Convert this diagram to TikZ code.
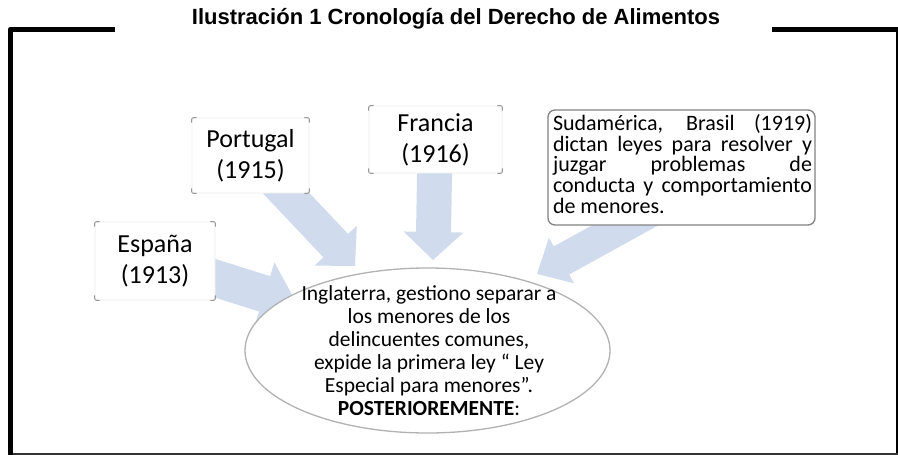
\documentclass[tikz,border=0pt]{standalone}
\usepackage{fontspec}
\setmainfont{Carlito}
\newfontfamily\titlefont{Liberation Sans}
\usetikzlibrary{calc,shapes.geometric}
\definecolor{arrowblue}{RGB}{208,220,238}
\definecolor{boxedge}{RGB}{236,236,236}
\definecolor{cornergray}{RGB}{150,150,150}
\definecolor{bigedge}{RGB}{130,130,130}
\tikzset{
  smallbox/.style={draw=boxedge, line width=0.8pt, fill=white, rounded corners=3pt,
    inner sep=0pt, align=center, font=\fontsize{26}{31}\selectfont},
  bigbox/.style={draw=bigedge, line width=1.3pt, fill=white, rounded corners=7pt,
    inner sep=0pt, minimum width=267pt, minimum height=115pt},
  cornertick/.style={draw=cornergray, line width=0.9pt, rounded corners=2pt},
  arrowfill/.style={fill=arrowblue},
  frameline/.style={line width=5pt, black, line join=round},
}
\newcommand\blockarrow[4]{%
  \coordinate (#1H) at ($(#1T)!#4!(#1S)$);
  \fill[arrowfill] ($(#1S)!#2/2!90:(#1T)$) -- ($(#1H)!#2/2!90:(#1T)$)
    -- ($(#1H)!#3/2!90:(#1T)$) -- (#1T) -- ($(#1H)!#3/2!-90:(#1T)$)
    -- ($(#1H)!#2/2!-90:(#1T)$) -- ($(#1S)!#2/2!-90:(#1T)$) -- cycle;
}
\newcommand\boxcorners[1]{%
  \draw[cornertick] ($(#1.north west)+(0,5)$) |- ($(#1.north west)+(5,0)$);
  \draw[cornertick] ($(#1.north east)+(-5,0)$) -| ($(#1.north east)+(0,5)$);
  \draw[cornertick] ($(#1.south west)+(0,-5)$) |- ($(#1.south west)+(5,0)$);
  \draw[cornertick] ($(#1.south east)+(-5,0)$) -| ($(#1.south east)+(0,-5)$);
}
\begin{document}
\begin{tikzpicture}[x=1pt,y=-1pt]
\useasboundingbox (0,0) rectangle (898,455);
\fill[white] (0,0) rectangle (898,455);

% frame
\draw[frameline] (114.5,29) -- (10.5,29) -- (10.5,455);
\draw[frameline] (772,29) -- (898,29);
\draw[line width=1.5pt] (897,31) -- (897,454);
\draw[line width=2pt, black!80] (13,453.5) -- (898,453.5);

% title
\node[font=\titlefont\bfseries\fontsize{22}{24}\selectfont, inner sep=0pt] (title) at (456,19)
  {Ilustración 1 Cronología del Derecho de Alimentos};

% arrows
\coordinate (frS) at (435,150);   \coordinate (frT) at (433,260);
\coordinate (ptS) at (250,155);   \coordinate (ptT) at (355,266);
\coordinate (esS) at (157,260);   \coordinate (esT) at (297,304);
\coordinate (saS) at (662,205);   \coordinate (saT) at (537,274);
\blockarrow{fr}{35pt}{60pt}{28pt}
\blockarrow{pt}{34pt}{58pt}{28pt}
\blockarrow{es}{37pt}{66pt}{34pt}
\blockarrow{sa}{32pt}{52pt}{28pt}

% boxes
\node[smallbox, minimum width=120pt, minimum height=78pt] (es) at (155,261) {España\\(1913)};
\node[smallbox, minimum width=117pt, minimum height=75pt] (pt) at (250.5,155.5) {Portugal\\(1915)};
\node[smallbox, minimum width=133pt, minimum height=67pt] (fr) at (435.5,139.5) {Francia\\(1916)};
\boxcorners{es}
\boxcorners{pt}
\boxcorners{fr}

\node[bigbox] (sa) at (681.5,167.5) {};
\node[inner sep=0pt] (satext) at (682.5,164) {\parbox{259pt}{\fontsize{22}{20.7}\selectfont
  \hyphenpenalty=10000 Sudamérica, Brasil (1919)\linebreak dictan leyes para resolver y\linebreak
  juzgar problemas de\linebreak conducta y comportamiento\linebreak de menores.}};

% ellipse
\node[ellipse, draw=gray!60, line width=1.3pt, fill=white, inner sep=0pt,
  minimum width=365pt, minimum height=165pt] (ing) at (427.5,350.5) {};
\node[align=center, inner sep=0pt, font=\fontsize{21.5}{23}\selectfont] (ingtext) at (429,350.5)
  {Inglaterra, gestiono separar a\\ los menores de los\\ delincuentes comunes,\\
   expide la primera ley “ Ley\\ Especial para menores”.\\ \textbf{POSTERIOREMENTE}:};
\end{tikzpicture}
\end{document}
